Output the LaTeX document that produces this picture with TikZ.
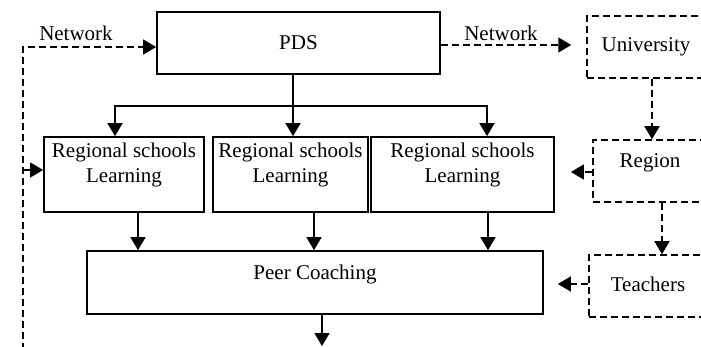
\documentclass[tikz,border=0pt]{standalone}
\usepackage{fontspec}
\setmainfont{Liberation Serif}
\usetikzlibrary{arrows.meta}
\begin{document}
\begin{tikzpicture}[x=1pt,y=-1pt,
  every node/.style={font=\fontsize{21}{25}\selectfont, inner sep=0pt},
  box/.style={draw, line width=1.7pt},
  dbox/.style={draw, line width=1.5pt, dash pattern=on 7pt off 4pt},
  lbl/.style={align=center},
  solidarrow/.style={line width=1.7pt, -{Triangle[length=13pt,width=15pt]}},
  solidline/.style={line width=1.7pt},
  dasharrow/.style={line width=1.5pt, dash pattern=on 7pt off 4pt, -{Triangle[length=13pt,width=15pt]}},
  dashline/.style={line width=1.5pt, dash pattern=on 7pt off 4pt},
]
\useasboundingbox (0,0) rectangle (701,347);
\clip (0,0) rectangle (701,347);

% central column
\node[box, minimum width=283, minimum height=62] (pds) at (298.5,43) {PDS};

\node[box, minimum width=160, minimum height=75] (rs1) at (124,174.5) {};
\node[box, minimum width=155, minimum height=75] (rs2) at (290.5,174.5) {};
\node[box, minimum width=183, minimum height=75] (rs3) at (462.5,174.5) {};
\node[lbl] (rs1t) at ([yshift=10pt]rs1.center) {Regional schools\\Learning};
\node[lbl] (rs2t) at ([yshift=10pt]rs2.center) {Regional schools\\Learning};
\node[lbl] (rs3t) at ([yshift=10pt]rs3.center) {Regional schools\\Learning};

\node[box, minimum width=456, minimum height=63] (pc) at (315,282.5) {};
\node (pct) at ([yshift=8pt]pc.center) {Peer Coaching};

% partner column on the right
\node[dbox, minimum width=118, minimum height=62] (uni) at (646,47) {University};
\node[dbox, minimum width=114, minimum height=62] (reg) at (650,171) {};
\node (regt) at ([yshift=8pt]reg.center) {Region};
\node[dbox, minimum width=118, minimum height=62] (tea) at (648,286) {};
\node (teat) at ([yshift=2pt]tea.center) {Teachers};

% PDS feeding the regional schools
\coordinate (split) at (293,106);
\draw[solidline] (pds.south -| split) -- (split);
\draw[solidarrow] (split) -- (rs2.north -| split);
\draw[solidarrow] (split) -| ([xshift=-9pt]rs1.north);
\draw[solidarrow] (split) -| ([xshift=24.5pt]rs3.north);

% regional schools into peer coaching
\draw[solidarrow] ([xshift=14pt]rs1.south) -- ([xshift=14pt]rs1.south |- pc.north);
\draw[solidarrow] ([xshift=23.5pt]rs2.south) -- ([xshift=23.5pt]rs2.south |- pc.north);
\draw[solidarrow] ([xshift=25.5pt]rs3.south) -- ([xshift=25.5pt]rs3.south |- pc.north);

% output of peer coaching
\coordinate (out) at (322,346);
\draw[solidarrow] (pc.south -| out) -- (out);

% network loop on the left
\coordinate (lbot) at (23,350);
\coordinate (ltop) at (23,47);
\coordinate (lmid) at (23,170);
\draw[dasharrow] (lbot) -- (ltop) -- (ltop -| pds.west);
\draw[dasharrow] (lmid) -- (lmid -| rs1.west);
\node (netl) at (76,33) {Network};

% network link to the university and the partner chain
\draw[dasharrow, shorten >=15pt] ([yshift=-2pt]pds.east) -- ([yshift=-2pt]pds.east -| uni.west);
\node (netr) at (501,33) {Network};
\draw[dasharrow] ([xshift=6pt]uni.south) -- ([xshift=6pt]uni.south |- reg.north);
\draw[dasharrow, shorten >=16pt] ([yshift=-1pt]reg.west) -- ([yshift=-1pt]reg.west -| rs3.east);
\draw[dasharrow] ([xshift=12pt]reg.south) -- ([xshift=12pt]reg.south |- tea.north);
\draw[dasharrow, shorten >=14pt] ([yshift=2pt]tea.west) -- ([yshift=2pt]tea.west -| pc.east);
\end{tikzpicture}
\end{document}
